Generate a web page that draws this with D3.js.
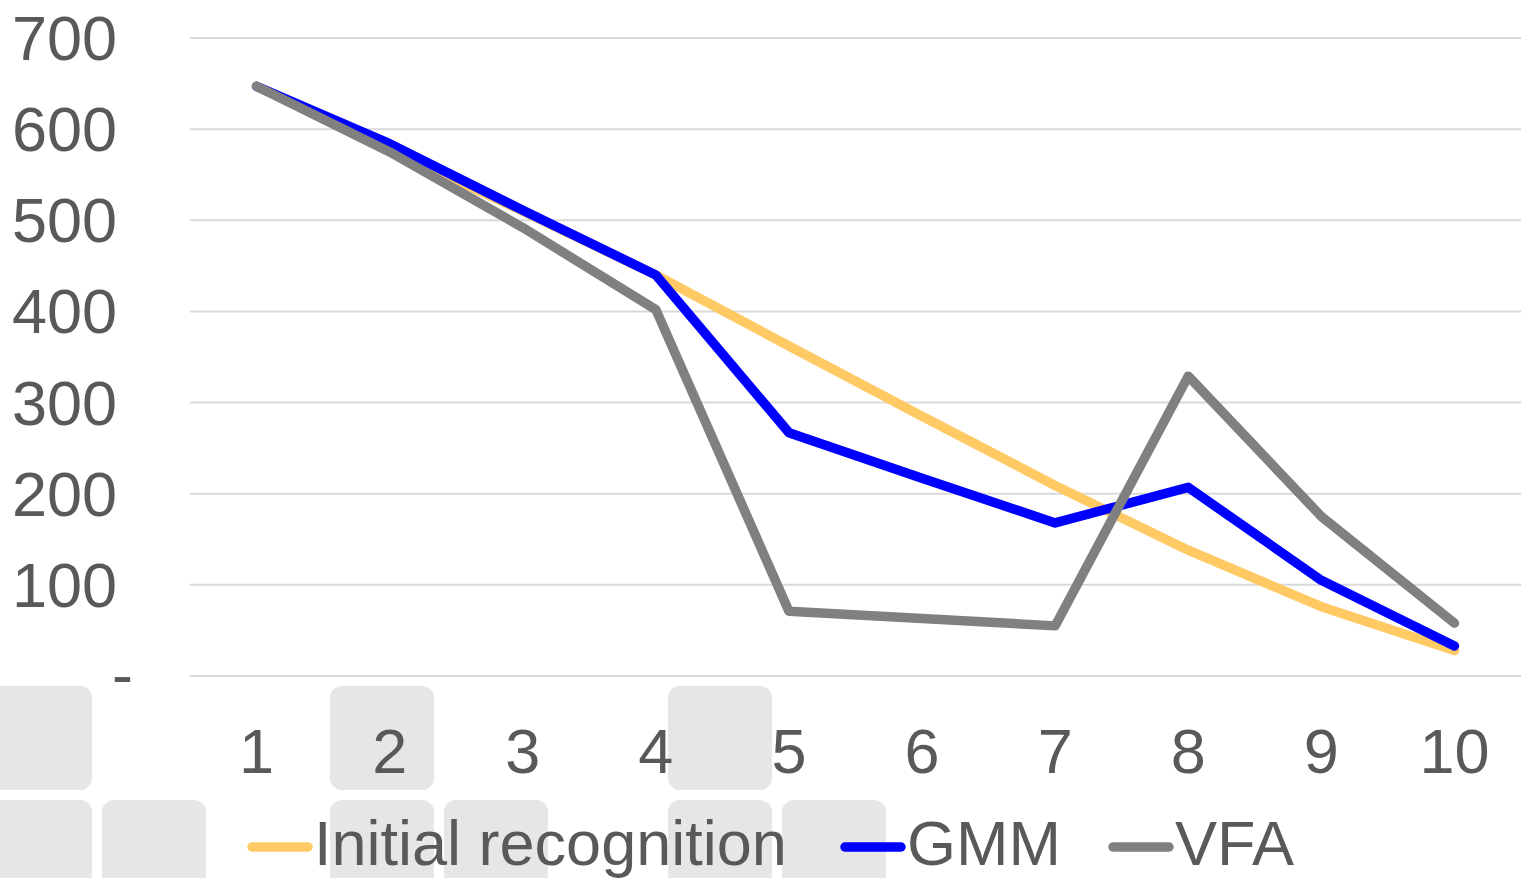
<!DOCTYPE html>
<html>
<head>
<meta charset="utf-8">
<script src="https://cdn.jsdelivr.net/npm/d3@7"></script>
<style>
  body { margin: 0; background: #fff; }
  text { font-family: "Liberation Sans", Arial, sans-serif; fill: #595959; }
</style>
</head>
<body>
<div class="svg-container"></div>
<script>
const categories = [1, 2, 3, 4, 5, 6, 7, 8, 9, 10];
const initialRecognition = [647, 578, 510, 440, 362, 285, 209, 138, 76, 28];
const gmm = [647, 584, 511, 440, 267, 217, 168, 207, 105, 33];
const vfa = [647, 575, 492, 402, 71, 63, 55, 329, 175, 58];
const yTicks = [0, 100, 200, 300, 400, 500, 600, 700];

const series = [
  { name: 'Initial recognition', values: initialRecognition, colour: '#FFCA64' },
  { name: 'GMM', values: gmm, colour: '#0000FF' },
  { name: 'VFA', values: vfa, colour: '#808080' }
];

const width = 1521;
const height = 878;

const svg = d3.select('.svg-container')
  .append('svg')
  .attr('width', width)
  .attr('height', height);

// light grey squares seen behind the axis labels / legend
const blocks = [
  [0, 686], [330, 686], [668, 686],
  [0, 800], [102, 800], [330, 800], [444, 800], [668, 800], [782, 800]
];
svg.append('g')
  .selectAll('rect')
  .data(blocks)
  .enter()
  .append('rect')
  .attr('x', (d) => d[0] === 0 ? -12 : d[0])
  .attr('y', (d) => d[1])
  .attr('width', 104)
  .attr('height', 104)
  .attr('rx', 12)
  .attr('fill', '#E6E6E6');

const x = d3.scaleBand()
  .domain(categories)
  .range([190, 1521]);

const y = d3.scaleLinear()
  .domain([0, 700])
  .range([676, 38]);

// gridlines
svg.append('g')
  .selectAll('line')
  .data(yTicks)
  .enter()
  .append('line')
  .attr('x1', 190)
  .attr('x2', 1521)
  .attr('y1', (d) => y(d))
  .attr('y2', (d) => y(d))
  .attr('stroke', '#D9D9D9')
  .attr('stroke-width', 2);

// y labels
svg.append('g')
  .selectAll('text')
  .data(yTicks)
  .enter()
  .append('text')
  .attr('x', (d) => d === 0 ? 133 : 117)
  .attr('y', (d) => y(d) + (d === 0 ? 20 : 22))
  .attr('text-anchor', 'end')
  .style('font-size', '63px')
  .text((d) => d === 0 ? '-' : d);

// x labels
svg.append('g')
  .selectAll('text')
  .data(categories)
  .enter()
  .append('text')
  .attr('x', (d) => x(d) + x.bandwidth() / 2)
  .attr('y', 773)
  .attr('text-anchor', 'middle')
  .style('font-size', '63px')
  .text((d) => d);

const line = d3.line()
  .x((d, i) => x(categories[i]) + x.bandwidth() / 2)
  .y((d) => y(d));

svg.append('g')
  .selectAll('path')
  .data(series)
  .enter()
  .append('path')
  .attr('d', (d) => line(d.values))
  .attr('fill', 'none')
  .attr('stroke', (d) => d.colour)
  .attr('stroke-width', 9.5)
  .attr('stroke-linejoin', 'round')
  .attr('stroke-linecap', 'round');

// legend
const legendX = [252, 845, 1113];
const legend = svg.append('g')
  .selectAll('g')
  .data(series)
  .enter()
  .append('g')
  .attr('transform', (d, i) => `translate(${legendX[i]},847)`);

legend.append('line')
  .attr('x1', 0)
  .attr('x2', 56)
  .attr('stroke', (d) => d.colour)
  .attr('stroke-width', 9.5)
  .attr('stroke-linecap', 'round');

legend.append('text')
  .attr('x', 62)
  .attr('y', 18)
  .style('font-size', '63px')
  .text((d) => d.name);
</script>
</body>
</html>
